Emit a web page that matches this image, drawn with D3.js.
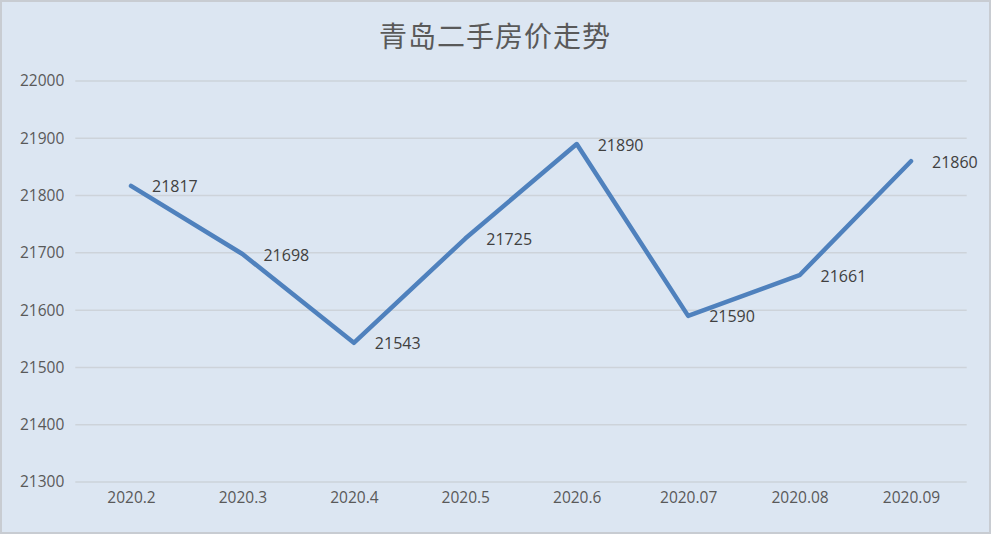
<!DOCTYPE html>
<html>
<head>
<meta charset="utf-8">
<script src="https://cdn.jsdelivr.net/npm/d3@7"></script>
<style>
  body { margin: 0; background: #fff; }
</style>
</head>
<body>
<script>
// données
const months = ["2020.2", "2020.3", "2020.4", "2020.5", "2020.6", "2020.07", "2020.08", "2020.09"];
const prices = [21817, 21698, 21543, 21725, 21890, 21590, 21661, 21860];
const yTicks = [21300, 21400, 21500, 21600, 21700, 21800, 21900, 22000];

const W = 991, H = 534;
const plotLeft = 75.3, plotRight = 966.7, plotTop = 81, plotBottom = 482;

const svg = d3.select("body")
    .append("svg")
    .attr("width", W)
    .attr("height", H)

// fond + bordure
svg.append("rect")
    .attr("x", 1).attr("y", 1)
    .attr("width", W - 2).attr("height", H - 2)
    .attr("fill", "#dce6f2")
    .attr("stroke", "#c8ccd2")
    .attr("stroke-width", 2)

const x = d3.scalePoint()
    .domain(months)
    .range([plotLeft, plotRight])
    .padding(0.5)

const y = d3.scaleLinear()
    .domain([21300, 22000])
    .range([plotBottom, plotTop])

// grille
svg.append("g")
    .selectAll("line")
    .data(yTicks)
    .enter()
    .append("line")
    .attr("x1", plotLeft).attr("x2", plotRight)
    .attr("y1", d => y(d)).attr("y2", d => y(d))
    .attr("stroke", "#cdd3da")
    .attr("stroke-width", 1.5)

// axe Y
const yAxis = svg.append("g")
    .attr("transform", `translate(${plotLeft - 11},0)`)
    .call(d3.axisLeft(y).tickValues(yTicks).tickSize(0).tickPadding(0).tickFormat(d3.format("d")))
yAxis.select(".domain").remove()
yAxis.selectAll("text")
    .attr("fill", "#595959")
    .style("font-family", "'Open Sans', 'Liberation Sans', sans-serif")
    .style("font-size", "15.5px")

// axe X
const xAxis = svg.append("g")
    .attr("transform", `translate(0,${plotBottom + 16})`)
    .call(d3.axisBottom(x).tickSize(0).tickPadding(0))
xAxis.select(".domain").remove()
xAxis.selectAll("text")
    .attr("fill", "#595959")
    .attr("dy", "0.35em")
    .style("font-family", "'Open Sans', 'Liberation Sans', sans-serif")
    .style("font-size", "15.5px")

// titre
svg.append("text")
    .attr("x", 495)
    .attr("y", 35)
    .attr("text-anchor", "middle")
    .attr("dominant-baseline", "central")
    .attr("fill", "#595959")
    .style("font-family", "'Noto Sans CJK SC', sans-serif")
    .style("font-size", "28px")
    .style("letter-spacing", "1px")
    .text("青岛二手房价走势")

// ligne
const line = d3.line()
    .x((d, i) => x(months[i]))
    .y(d => y(d))

svg.append("path")
    .datum(prices)
    .attr("d", line)
    .attr("fill", "none")
    .attr("stroke", "#4f81bd")
    .attr("stroke-width", 4.5)
    .attr("stroke-linejoin", "round")
    .attr("stroke-linecap", "round")

// étiquettes
svg.append("g")
    .selectAll("text")
    .data(prices)
    .enter()
    .append("text")
    .attr("x", (d, i) => x(months[i]) + 21)
    .attr("y", d => y(d) + 1)
    .attr("dy", "0.35em")
    .attr("fill", "#404040")
    .style("font-family", "'Open Sans', 'Liberation Sans', sans-serif")
    .style("font-size", "16px")
    .text(d => d)
</script>
</body>
</html>
